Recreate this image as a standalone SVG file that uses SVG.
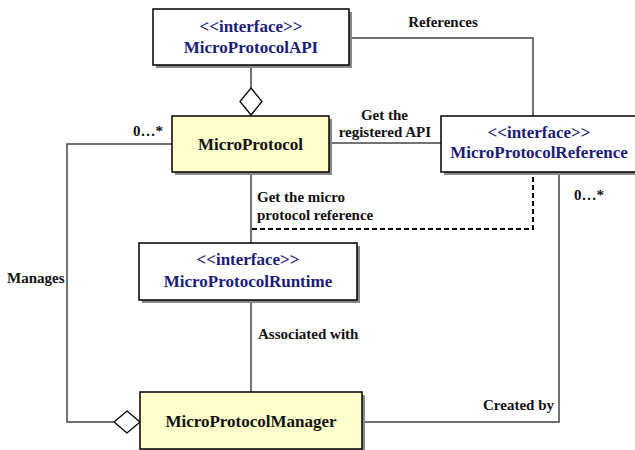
<svg xmlns="http://www.w3.org/2000/svg" width="635" height="450" viewBox="0 0 635 450">
  <style>
    .box { stroke: #000; stroke-width: 1.5; }
    .iface { fill: #ffffff; }
    .cls { fill: #ffffcc; }
    .shadow { fill: #8a8a8a; }
    .name { font-family: "Liberation Serif", "Times New Roman", serif; font-weight: bold; font-size: 17px; text-anchor: middle; }
    .navy { fill: #1c1c78; }
    .black { fill: #111; }
    .lbl { font-family: "Liberation Serif", "Times New Roman", serif; font-weight: bold; font-size: 15px; fill: #111; }
    .link { fill: none; stroke: #444; stroke-width: 1.5; }
    .dash { fill: none; stroke: #000; stroke-width: 2; stroke-dasharray: 5 3; }
    .diamond { fill: #fff; stroke: #000; stroke-width: 1.3; }
  </style>

  <rect width="635" height="450" fill="#fff"/>

  <!-- connectors -->
  <g id="connectors">
    <!-- API references: API box to Reference box -->
    <polyline class="link" points="349,38 533,38 533,116"/>
    <!-- aggregation: API onto MicroProtocol -->
    <line class="link" x1="251" y1="65" x2="251" y2="88"/>
    <polygon class="diamond" points="251,88 262,101.5 251,115 240,101.5"/>
    <!-- MicroProtocol to Reference -->
    <line class="link" x1="329" y1="143" x2="441" y2="143"/>
    <!-- MicroProtocol to Runtime -->
    <line class="link" x1="251" y1="172" x2="251" y2="243"/>
    <!-- dashed dependency Runtime link to Reference -->
    <polyline class="dash" points="252,229 533,229 533,173"/>
    <!-- Runtime to Manager -->
    <line class="link" x1="251" y1="300" x2="251" y2="392"/>
    <!-- Manager manages MicroProtocol -->
    <polyline class="link" points="172,144 67,144 67,422 114,422"/>
    <polygon class="diamond" points="114,422 127,411 140,422 127,433"/>
    <!-- Reference created by Manager -->
    <polyline class="link" points="559,172 559,422 362,422"/>

    <text class="lbl" x="443" y="27" text-anchor="middle">References</text>
    <text class="lbl" x="408" y="120" text-anchor="end">Get the</text>
    <text class="lbl" x="431" y="137" text-anchor="end">registered API</text>
    <text class="lbl" x="163" y="136" text-anchor="end">0…*</text>
    <text class="lbl" x="257" y="202">Get the micro</text>
    <text class="lbl" x="257" y="220">protocol reference</text>
    <text class="lbl" x="574" y="200">0…*</text>
    <text class="lbl" x="7" y="283">Manages</text>
    <text class="lbl" x="258" y="339">Associated with</text>
    <text class="lbl" x="554" y="410" text-anchor="end">Created by</text>
  </g>

  <g id="MicroProtocolAPI">
    <rect class="shadow" x="156" y="12" width="196" height="56"/>
    <rect class="box iface" x="153" y="9" width="196" height="56"/>
    <text class="name navy" x="251" y="32">&lt;&lt;interface&gt;&gt;</text>
    <text class="name navy" x="251" y="53">MicroProtocolAPI</text>
  </g>

  <g id="MicroProtocolReference">
    <rect class="shadow" x="444" y="119" width="196" height="56"/>
    <rect class="box iface" x="441" y="116" width="196" height="56"/>
    <text class="name navy" x="539" y="138">&lt;&lt;interface&gt;&gt;</text>
    <text class="name navy" x="539" y="158">MicroProtocolReference</text>
  </g>

  <g id="MicroProtocol">
    <rect class="shadow" x="175" y="119" width="157" height="56"/>
    <rect class="box cls" x="172" y="116" width="157" height="56"/>
    <text class="name black" x="250.5" y="150">MicroProtocol</text>
  </g>

  <g id="MicroProtocolRuntime">
    <rect class="shadow" x="142" y="246" width="218" height="57"/>
    <rect class="box iface" x="139" y="243" width="218" height="57"/>
    <text class="name navy" x="248" y="265">&lt;&lt;interface&gt;&gt;</text>
    <text class="name navy" x="248" y="287">MicroProtocolRuntime</text>
  </g>

  <g id="MicroProtocolManager">
    <rect class="shadow" x="143" y="395" width="222" height="57"/>
    <rect class="box cls" x="140" y="392" width="222" height="57"/>
    <text class="name black" x="251" y="427">MicroProtocolManager</text>
  </g>
</svg>
